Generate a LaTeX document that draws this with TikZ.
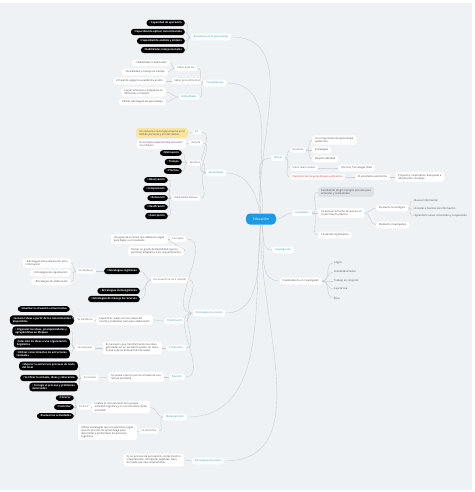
\documentclass[tikz,border=0pt]{standalone}
\usepackage{fontspec}
\setmainfont{Open Sans}

\definecolor{bgpaper}{HTML}{EEF2F5}
\definecolor{linegray}{HTML}{C3CCD2}
\definecolor{topicteal}{HTML}{2E9DB5}
\definecolor{rootblue}{HTML}{1C9BE4}
\definecolor{leafgray}{HTML}{4A4A4A}
\definecolor{notegold}{HTML}{FBE59A}
\definecolor{greyfill}{HTML}{DDE2E6}
\definecolor{redtext}{HTML}{C0392B}
\definecolor{pinkmark}{HTML}{D6457A}
\definecolor{greenmark}{HTML}{3E9B4F}

\newcommand{\tinytext}{\fontsize{2.6}{3.1}\selectfont}
\newcommand{\mk}[1]{\textcolor{#1}{\textbullet}\,}

\tikzset{
  rootbox/.style={fill=rootblue, text=white, rounded corners=4pt,
    minimum width=30pt, minimum height=11pt, font=\fontsize{3.4}{4}\selectfont},
  topicbox/.style={fill=white, text=topicteal, rounded corners=2.5pt,
    inner xsep=3pt, inner ysep=2pt, font=\tinytext},
  tagbox/.style={fill=white, text=leafgray!85, rounded corners=2pt,
    inner xsep=2.5pt, inner ysep=1.6pt, font=\tinytext},
  leafbox/.style={fill=white, text=leafgray, rounded corners=2.5pt,
    inner xsep=3pt, inner ysep=2pt, align=left, font=\tinytext},
  darkbox/.style={fill=black, text=white, rounded corners=3pt,
    inner xsep=3pt, inner ysep=1.8pt, align=left, font=\tinytext\bfseries},
  notebox/.style={leafbox, fill=notegold},
  greybox/.style={leafbox, fill=greyfill},
  plaintxt/.style={text=leafgray, inner sep=1pt, font=\tinytext},
  link/.style={draw=linegray, line width=0.35pt},
  toleft/.style={out=180, in=0},
  toright/.style={out=0, in=180},
}

\begin{document}
\begin{tikzpicture}[x=1pt,y=1pt]
    \fill[white] (0,0) rectangle (474,-492);
    \fill[bgpaper] (0,-3) rectangle (472,-490);
    \useasboundingbox (0,0) rectangle (474,-492);

    \node[rootbox] (edu) at (261,-219) {Educación};

    % upper left
    \node[topicbox] (ens) at (211,-37) {Enseñanza en el aprendizaje};
    \begin{scope}[every node/.style={darkbox, anchor=east}]
        \node (cap1) at (185,-23) {\mk{white}Capacidad de operación};
        \node (cap2) at (185,-32) {\mk{white}Capacidad de aplicar conocimientos};
        \node (cap3) at (185,-41) {\mk{white}Capacidad de análisis y síntesis};
        \node (cap4) at (185,-50) {\mk{white}Habilidades interpersonales};
    \end{scope}

    \node[topicbox] (comp) at (215,-83) {Competencias};
    \node[tagbox] (sabser) at (186,-68) {Saber para ser};
    \node[tagbox] (sabproc) at (187,-81) {Saber procedimental};
    \node[tagbox, text=topicteal] (actit) at (189,-97) {Actitudinales};
    \begin{scope}[every node/.style={leafbox, anchor=east}]
        \node (habint) at (170,-63) {\mk{leafgray!60}Habilidades intelectuales};
        \node (flexman) at (168,-72) {\mk{leafgray!60}Flexibilidad y manejo de tiempo};
        \node (nivel) at (166,-81) {El nivel de exigencia académica es alto};
        \node (lograr) at (166,-92) {Lograr intereses e integrarse en\\diferentes contextos};
        \node (utilest) at (166,-102) {Utilizar estrategias de aprendizaje};
    \end{scope}

    \node[topicbox] (apr) at (216,-173) {Aprendizaje};
    \node[tagbox] (en) at (197,-132) {En};
    \node[tagbox] (genera) at (196,-143) {Genera};
    \node[tagbox] (factores) at (195,-163) {Factores};
    \node[tagbox] (habbas) at (186,-198) {Habilidades básicas};
    \node[notebox, anchor=east] (ambiente) at (188,-133) {Un ambiente social que propicie en el\\ámbito personal y el intercambio};
    \node[leafbox, anchor=east] (concexp) at (186,-144) {El concepto experimental necesario\\en el futuro};
    \begin{scope}[every node/.style={darkbox, anchor=east}]
        \node (motiv) at (182,-153) {\mk{white}Motivación};
        \node (tiempo) at (182,-162) {\mk{white}Tiempo};
        \node (practica) at (182,-171) {\mk{white}Práctica};
        \node (observ) at (168,-180) {\mk{white}Observación};
        \node (compren) at (168,-189) {\mk{white}Comprensión};
        \node (retenc) at (168,-198) {\mk{white}Retención};
        \node (clasif) at (168,-207) {\mk{white}Clasificación};
        \node (descrip) at (168,-216) {\mk{white}Descripción};
    \end{scope}

    % right
    \node[topicbox] (virt) at (278,-158) {Virtual};
    \begin{scope}[every node/.style={tagbox, anchor=west}]
        \node (recur) at (290,-150) {Recursos};
        \node (sitios) at (290,-168) {Sitios relacionados};
        \node[text=redtext] (elemaut) at (290,-177) {Elemento de los aprendizajes autónomos};
    \end{scope}
    \begin{scope}[every node/.style={leafbox, anchor=west}]
        \node (compaut) at (312,-140) {Un componente de aprendizaje\\autónomo};
        \node (estrat) at (312,-150) {Estrategias};
        \node (respon) at (312,-159) {Responsabilidad};
        \node (internet) at (338,-168) {Internet, Tecnología, Web};
        \node (estaut) at (355,-177) {El estudiante autónomo};
        \node (proyec) at (395,-177) {Proyectos, cooperativo, búsqueda e\\información compleja};
    \end{scope}

    \node[topicbox] (activ) at (302,-213) {Actividades};
    \node[greybox, anchor=west] (facultad) at (318,-192) {Facultad de dirigir el propio proceso para\\entender y comprender};
    \begin{scope}[every node/.style={leafbox, anchor=west}]
        \node (sebasa) at (318,-213) {Se basa en el hecho de que es un\\conocimiento práctico};
        \node (tecno) at (376,-208) {Elemento tecnológico};
        \node (investig) at (376,-225) {Elemento investigativo};
        \node (contsig) at (318,-235) {Contenido significativo};
    \end{scope}
    \begin{scope}[every node/.style={plaintxt, anchor=west}]
        \node (buscar) at (412,-201) {\mk{greenmark}Buscar información};
        \node (acceder) at (412,-209) {\mk{greenmark}Acceder a fuentes de información};
        \node (aprnuev) at (412,-216) {\mk{greenmark}Aprender nuevos contenidos y cooperación};
    \end{scope}

    \node[topicbox] (inv) at (283,-250) {Investigación};
    \node[leafbox] (cual) at (301,-281) {Cualidades de un investigador};
    \begin{scope}[every node/.style={plaintxt, anchor=west}]
        \node (logico) at (333,-263) {Lógico};
        \node (sistem) at (333,-272) {Sistemáticamente};
        \node (trabajo) at (333,-281) {Trabajo en conjunto};
        \node (lapract) at (333,-289) {La práctica};
        \node (etica) at (333,-298) {Ética};
    \end{scope}

    % lower left
    \node[topicbox] (estud) at (209,-313) {Estrategias de estudio};
    \node[tagbox] (concepto) at (178,-239) {Concepto};
    \node[tagbox] (rol) at (170,-280) {De acuerdo al rol a cumplir};
    \begin{scope}[every node/.style={leafbox, anchor=east}]
        \node (guia) at (168,-239) {Una guía de acciones que debemos seguir\\para llegar a un resultado};
        \node (flexib) at (184,-251) {Tienen un grado de flexibilidad que les\\permiten adaptarse a los requerimientos};
    \end{scope}
    \begin{scope}[every node/.style={darkbox, anchor=east}]
        \node (cogn) at (140,-271) {\mk{white}Estrategias cognitivas};
        \node (metacog) at (140,-291) {\mk{white}Estrategias metacognitivas};
        \node (manejo) at (140,-299) {\mk{white}Estrategias de manejo de recursos};
    \end{scope}
    \node[tagbox] (divide) at (86,-271) {Se divide en};
    \begin{scope}[every node/.style={leafbox, anchor=east}]
        \node (adquis) at (71,-263) {\mk{pinkmark}Estrategias de la adquisición de la\\información};
        \node (organiz) at (71,-273) {\mk{pinkmark}Estrategias de organización};
        \node (elabor) at (71,-282) {\mk{pinkmark}Estrategias de elaboración};
    \end{scope}

    \node[topicbox] (planif) at (175,-321) {Planificación};
    \node[leafbox, anchor=east] (especif) at (153,-320) {Especificar cuáles son las metas del\\escrito y establecer plan para elaboración};
    \node[tagbox] (establece) at (85,-320) {Se establece};
    \node[topicbox] (produc) at (176,-348) {Producción};
    \node[leafbox, anchor=east] (necesar) at (162,-348) {Es necesario que transformemos las ideas\\generadas en un momento previo, en texto,\\lo que supone el desarrollo de varias};
    \node[tagbox] (expresan) at (85,-348) {Se expresan};
    \node[topicbox] (revis) at (177,-377) {Revisión};
    \node[leafbox, anchor=east] (vuelve) at (164,-377) {Se vuelve a leer lo escrito a través de una\\lectura periódica};
    \node[tagbox] (revisan) at (90,-378) {Se revisan};
    \begin{scope}[every node/.style={darkbox, anchor=east}]
        \node (analiz) at (70,-309) {\mk{white}Analizar la situación comunicativa};
        \node (generar) at (74,-320) {\mk{white}Generar ideas a partir de los conocimientos\\disponibles};
        \node (organid) at (70,-331) {\mk{white}Organizar las ideas, jerarquizándolas y\\agrupándolas en bloques};
        \node (selecc) at (70,-343) {\mk{white}Selección de ideas a una organización\\lingüística};
        \node (estrtxt) at (70,-354) {\mk{white}Utilizar conocimientos de estructuras\\textuales};
        \node (mejorar) at (78,-366) {\mk{white}Mejorar la estructura procesos de texto\\del nivel};
        \node (verific) at (78,-378) {\mk{white}Verificar la sintaxis, ideas y coherencia};
        \node (corregir) at (78,-387) {\mk{white}Corregir el proceso y problemas\\detectados};
    \end{scope}

    \node[topicbox] (meta) at (175,-417) {Metacognición};
    \node[leafbox, anchor=east] (implica) at (150,-407) {Implica el conocimiento de la propia\\actividad cognitiva y un control sobre dicha\\actividad};
    \node[tagbox] (esdecir) at (84,-407) {Es decir};
    \node[tagbox] (identif) at (149,-431) {Se identifica};
    \node[leafbox, anchor=east] (utilmeta) at (137,-432) {Utilizar estrategias que nos permitan seguir\\nuestro proceso de aprendizaje para\\desarrollar y profundizar los procesos\\cognitivos};
    \begin{scope}[every node/.style={darkbox, anchor=east}]
        \node (conocer) at (74,-398) {\mk{white}Conocer};
        \node (control) at (74,-407) {\mk{white}Controlar};
        \node (evaluar) at (74,-416) {\mk{white}Evaluar las actividades};
    \end{scope}

    \node[topicbox] (lect) at (208,-461) {Estrategias de lectura};
    \node[leafbox, anchor=east] (percep) at (184,-460) {Es un proceso de percepción, comprensión e\\interpretación, interpretar palabras, texto,\\de modo que sea comprensible};

    \begin{scope}[every edge/.style={link}]
        % from the root
        \path (edu) edge[out=95, in=0] (ens.east)
                    edge[out=95, in=0] (comp.east)
                    edge[out=100, in=0] (apr.east)
                    edge[out=-95, in=0] (estud.east)
                    edge[out=-95, in=0] (meta.east)
                    edge[out=-92, in=0] (lect.east)
                    edge[out=80, in=180] (virt.west)
                    edge[out=0, in=180] (activ.west)
                    edge[out=-80, in=180] (inv.west)
                    edge[out=-80, in=180] (cual.west);
        % left branches
        \path (ens.west) edge[toleft] (cap1.east) edge[toleft] (cap2.east)
                         edge[toleft] (cap3.east) edge[toleft] (cap4.east);
        \path (comp.west) edge[toleft] (sabser.east) edge[toleft] (sabproc.east)
                          edge[toleft] (actit.east);
        \path (sabser.west) edge[toleft] (habint.east) edge[toleft] (flexman.east);
        \path (sabproc.west) edge[toleft] (nivel.east);
        \path (actit.west) edge[toleft] (lograr.east) edge[toleft] (utilest.east);
        \path (apr.west) edge[toleft] (en.east) edge[toleft] (genera.east)
                         edge[toleft] (factores.east) edge[toleft] (habbas.east);
        \path (en.west) edge[toleft] (ambiente.east);
        \path (genera.west) edge[toleft] (concexp.east);
        \path (factores.west) edge[toleft] (motiv.east) edge[toleft] (tiempo.east)
                              edge[toleft] (practica.east);
        \path (habbas.west) edge[toleft] (observ.east) edge[toleft] (compren.east)
                            edge[toleft] (retenc.east) edge[toleft] (clasif.east)
                            edge[toleft] (descrip.east);
        \path (estud.west) edge[toleft] (concepto.east) edge[toleft] (rol.east)
                           edge[toleft] (planif.east) edge[toleft] (produc.east)
                           edge[toleft] (revis.east);
        \path (concepto.west) edge[toleft] (guia.east) edge[toleft] (flexib.east);
        \path (rol.west) edge[toleft] (cogn.east) edge[toleft] (metacog.east)
                         edge[toleft] (manejo.east);
        \path (cogn.west) edge[toleft] (divide.east);
        \path (divide.west) edge[toleft] (adquis.east) edge[toleft] (organiz.east)
                            edge[toleft] (elabor.east);
        \path (planif.west) edge[toleft] (especif.east);
        \path (especif.west) edge[toleft] (establece.east);
        \path (establece.west) edge[toleft] (analiz.east) edge[toleft] (generar.east);
        \path (produc.west) edge[toleft] (necesar.east);
        \path (necesar.west) edge[toleft] (expresan.east);
        \path (expresan.west) edge[toleft] (organid.east) edge[toleft] (selecc.east)
                              edge[toleft] (estrtxt.east);
        \path (revis.west) edge[toleft] (vuelve.east);
        \path (vuelve.west) edge[toleft] (revisan.east);
        \path (revisan.west) edge[toleft] (mejorar.east) edge[toleft] (verific.east)
                             edge[toleft] (corregir.east);
        \path (meta.west) edge[toleft] (implica.east) edge[toleft] (identif.east);
        \path (implica.west) edge[toleft] (esdecir.east);
        \path (esdecir.west) edge[toleft] (conocer.east) edge[toleft] (control.east)
                             edge[toleft] (evaluar.east);
        \path (identif.west) edge[toleft] (utilmeta.east);
        \path (lect.west) edge[toleft] (percep.east);
        % right branches
        \path (virt.east) edge[toright] (recur.west) edge[toright] (sitios.west)
                          edge[toright] (elemaut.west);
        \path (recur.east) edge[toright] (compaut.west) edge[toright] (estrat.west)
                           edge[toright] (respon.west);
        \path (sitios.east) edge[toright] (internet.west);
        \path (elemaut.east) edge[toright] (estaut.west);
        \path (estaut.east) edge[toright] (proyec.west);
        \path (activ.east) edge[toright] (facultad.west) edge[toright] (sebasa.west)
                           edge[toright] (contsig.west);
        \path (sebasa.east) edge[toright] (tecno.west) edge[toright] (investig.west);
        \path (tecno.east) edge[toright] (buscar.west) edge[toright] (acceder.west)
                           edge[toright] (aprnuev.west);
        \path (cual.east) edge[toright] (logico.west) edge[toright] (sistem.west)
                          edge[toright] (trabajo.west) edge[toright] (lapract.west)
                          edge[toright] (etica.west);
    \end{scope}
\end{tikzpicture}
\end{document}
